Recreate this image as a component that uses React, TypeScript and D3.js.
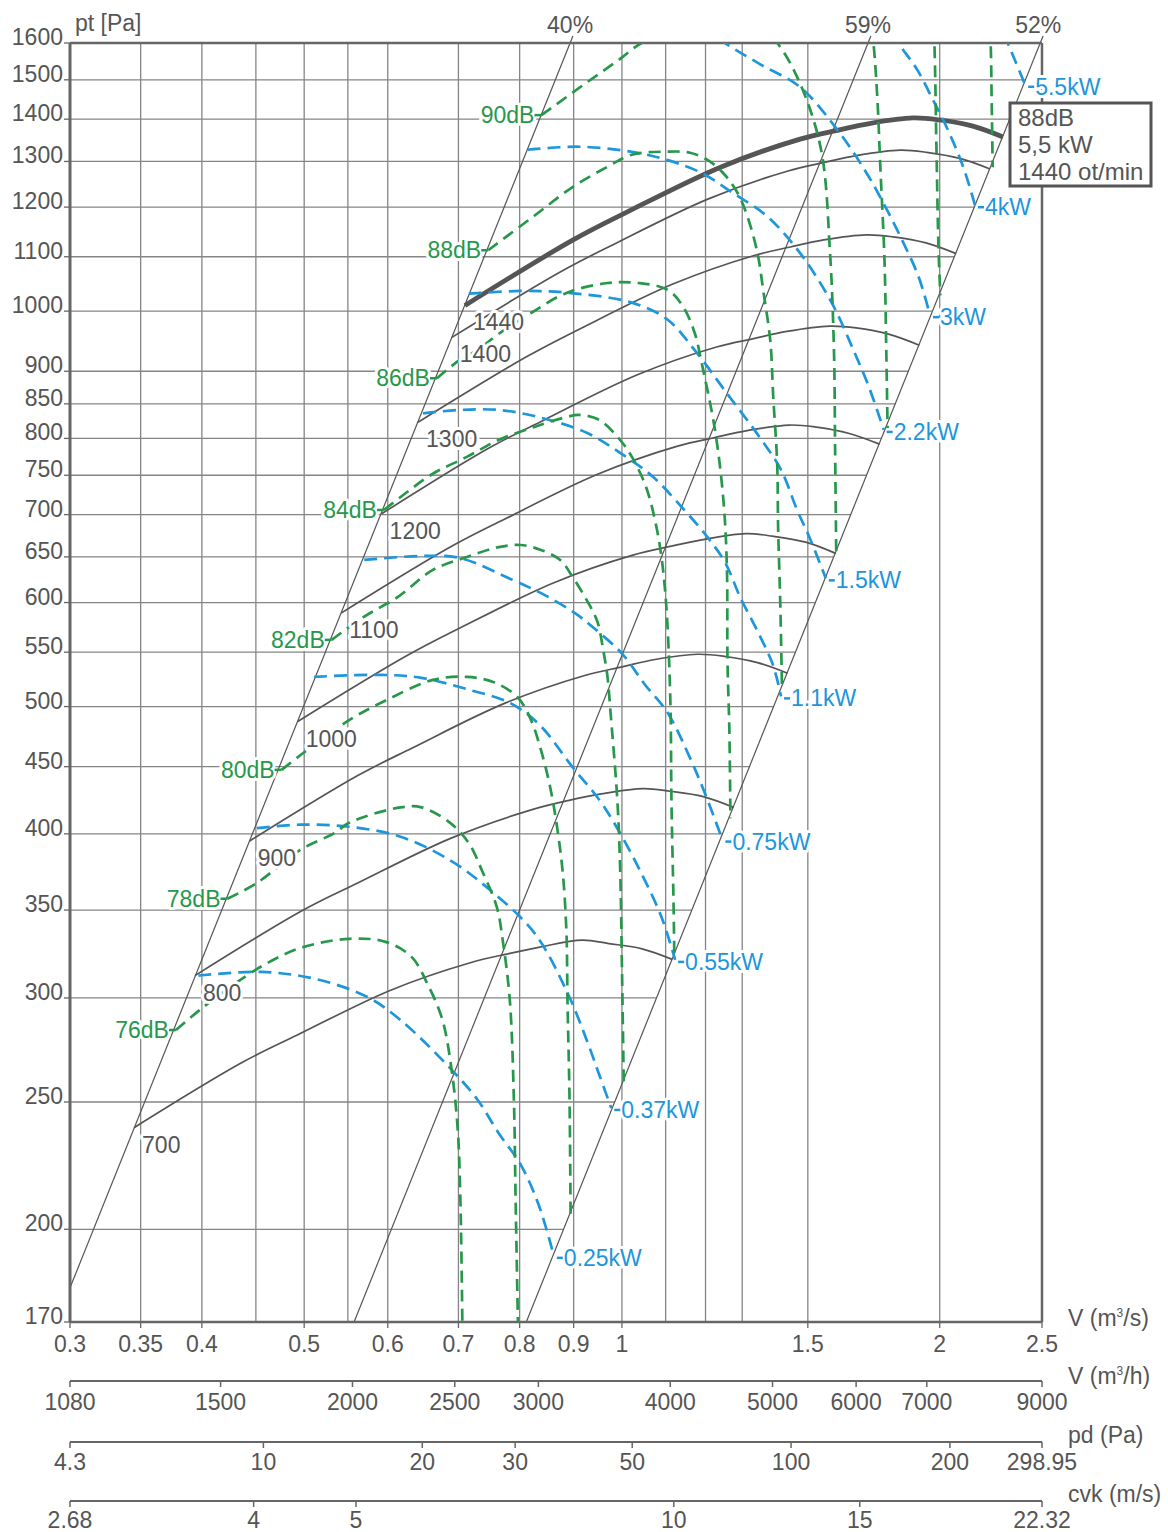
import React from "react";
import * as d3 from "d3";

type Pt = [number, number];

// ---------- axis values ----------
const flowTicks = [0.3, 0.35, 0.4, 0.5, 0.6, 0.7, 0.8, 0.9, 1, 1.5, 2, 2.5];
const flowGrid = [0.35, 0.4, 0.45, 0.5, 0.55, 0.6, 0.7, 0.8, 0.9, 1, 1.1, 1.2, 1.3, 1.5, 2];
const pressureTicks = [170, 200, 250, 300, 350, 400, 450, 500, 550, 600, 650, 700, 750, 800, 850, 900, 1000, 1100, 1200, 1300, 1400, 1500, 1600];
const pressureGrid = [200, 250, 300, 350, 400, 450, 500, 550, 600, 650, 700, 750, 800, 850, 900, 1000, 1100, 1200, 1300, 1400, 1500];
const flowHourTicks = [1080, 1500, 2000, 2500, 3000, 4000, 5000, 6000, 7000, 9000];
const pdTicks = [4.3, 10, 20, 30, 50, 100, 200, 298.95];
const cvkTicks = [2.68, 4, 5, 10, 15, 22.32];

// ---------- efficiency (system) lines ----------
const effLabels = ["40%", "59%", "52%"];
const eff40: Pt[] = [[0.3, 180.5], [0.8986, 1620]];
const eff59: Pt[] = [[0.5575, 170], [1.7211, 1620]];
const eff52: Pt[] = [[0.8117, 170], [2.5058, 1620]];

// ---------- speed curves (rpm) ----------
const speedLabels = ["700", "800", "900", "1000", "1100", "1200", "1300", "1400", "1440"];
const speed700: Pt[] = [[0.345, 239], [0.437, 268], [0.492, 281], [0.603, 304], [0.717, 319], [0.778, 324], [0.836, 328], [0.917, 332], [0.972, 330], [1.045, 327], [1.116, 321]];
const speed800: Pt[] = [[0.394, 312], [0.499, 350], [0.562, 367], [0.689, 397], [0.819, 417], [0.889, 424], [0.956, 429], [1.048, 433], [1.111, 431], [1.194, 427], [1.276, 419]];
const speed900: Pt[] = [[0.444, 395], [0.562, 443], [0.633, 465], [0.775, 503], [0.922, 528], [1.0, 536], [1.075, 543], [1.179, 548], [1.25, 546], [1.344, 540], [1.435, 530]];
const speed1000: Pt[] = [[0.493, 487], [0.624, 546], [0.703, 574], [0.861, 621], [1.024, 652], [1.111, 662], [1.194, 670], [1.31, 677], [1.389, 674], [1.493, 667], [1.594, 654]];
const speed1100: Pt[] = [[0.542, 589], [0.687, 661], [0.773, 694], [0.947, 751], [1.127, 789], [1.222, 801], [1.314, 811], [1.441, 819], [1.528, 816], [1.642, 807], [1.754, 792]];
const speed1200: Pt[] = [[0.592, 701], [0.749, 787], [0.843, 826], [1.033, 894], [1.229, 939], [1.333, 953], [1.433, 965], [1.573, 974], [1.667, 971], [1.792, 960], [1.913, 942]];
const speed1300: Pt[] = [[0.641, 823], [0.812, 923], [0.914, 970], [1.119, 1049], [1.332, 1102], [1.444, 1119], [1.553, 1133], [1.704, 1143], [1.806, 1139], [1.941, 1127], [2.073, 1106]];
const speed1400: Pt[] = [[0.69, 955], [0.874, 1071], [0.984, 1125], [1.206, 1217], [1.434, 1278], [1.556, 1298], [1.672, 1314], [1.835, 1326], [1.944, 1321], [2.09, 1307], [2.232, 1283]];
const speed1440: Pt[] = [[0.71, 1010], [0.899, 1133], [1.012, 1190], [1.24, 1287], [1.475, 1352], [1.6, 1373], [1.72, 1390], [1.887, 1403], [2.0, 1398], [2.15, 1383], [2.296, 1357]];

// ---------- motor power curves (kW) ----------
const powerLabels = ["0.25kW", "0.37kW", "0.55kW", "0.75kW", "1.1kW", "1.5kW", "2.2kW", "3kW", "4kW", "5.5kW"];
const kw025: Pt[] = [[0.397, 312], [0.456, 314], [0.514, 310], [0.574, 300.5], [0.617, 288.6], [0.687, 265.4], [0.73, 250.9], [0.764, 236.8], [0.802, 223.9], [0.834, 208.7], [0.862, 190.9]];
const kw037: Pt[] = [[0.451, 404], [0.496, 406.5], [0.552, 405], [0.617, 398], [0.687, 382], [0.75, 362.5], [0.826, 336.3], [0.886, 303.9], [0.926, 278.7], [0.952, 262], [0.977, 247.4]];
const kw055: Pt[] = [[0.511, 526.7], [0.59, 528.6], [0.646, 525.8], [0.716, 515], [0.784, 503], [0.836, 484], [0.898, 449.6], [0.952, 424.5], [0.988, 405], [1.036, 377.5], [1.09, 345.8], [1.123, 320.7]];
const kw075: Pt[] = [[0.57, 646.5], [0.646, 651], [0.702, 648.8], [0.784, 625.4], [0.846, 607.6], [0.902, 589.2], [0.94, 574], [1.0, 548.7], [1.052, 519.3], [1.105, 494.5], [1.16, 457], [1.2, 428.3], [1.245, 396]];
const kw110: Pt[] = [[0.648, 836], [0.702, 841], [0.764, 841], [0.836, 830], [0.926, 808], [0.996, 780], [1.07, 748], [1.145, 706], [1.205, 673], [1.252, 644], [1.295, 605], [1.345, 570], [1.39, 538], [1.415, 509]];
const kw150: Pt[] = [[0.716, 1031], [0.802, 1036], [0.886, 1033], [1.022, 1015], [1.105, 985], [1.172, 934], [1.257, 866], [1.35, 802], [1.415, 757], [1.465, 706], [1.505, 673], [1.56, 626]];
const kw220: Pt[] = [[0.814, 1327], [0.9125, 1334], [1.022, 1322], [1.105, 1303], [1.19, 1274], [1.274, 1230], [1.374, 1180], [1.475, 1107], [1.58, 1015], [1.657, 934], [1.718, 871], [1.77, 812]];
const kw300: Pt[] = [[1.15, 1680], [1.252, 1600], [1.355, 1540], [1.475, 1481], [1.6, 1374], [1.705, 1274], [1.777, 1200], [1.842, 1133], [1.91, 1062], [1.958, 993]];
const kw400: Pt[] = [[1.76, 1680], [1.827, 1600], [1.904, 1527], [1.971, 1448], [2.03, 1381], [2.105, 1288], [2.16, 1204]];
const kw550: Pt[] = [[2.26, 1680], [2.32, 1600], [2.36, 1548], [2.41, 1487]];

// ---------- noise curves (dB) ----------
const noiseLabels = ["76dB", "78dB", "80dB", "82dB", "84dB", "86dB", "88dB", "90dB", "", "", ""];
const db76: Pt[] = [[0.378, 283.6], [0.398, 293.7], [0.428, 306.9], [0.458, 317.9], [0.496, 327.5], [0.552, 332.8], [0.597, 331], [0.632, 322.4], [0.655, 306.9], [0.676, 288.7], [0.69, 263.7], [0.699, 238], [0.703, 210.5], [0.706, 170]];
const db78: Pt[] = [[0.423, 357], [0.451, 367], [0.496, 389], [0.534, 400.5], [0.552, 408], [0.617, 419], [0.646, 419], [0.687, 408], [0.716, 393.6], [0.737, 375], [0.761, 352], [0.771, 332], [0.783, 299], [0.79, 251], [0.793, 210.6], [0.797, 170]];
const db80: Pt[] = [[0.476, 447.5], [0.499, 460.9], [0.552, 488.5], [0.599, 505.9], [0.662, 523.9], [0.713, 526.7], [0.755, 522], [0.796, 508.5], [0.82, 488.5], [0.838, 463.4], [0.855, 434.3], [0.868, 405], [0.879, 373.4], [0.886, 336.3], [0.888, 299], [0.892, 250.9], [0.894, 205]];
const db82: Pt[] = [[0.531, 562], [0.569, 584.9], [0.613, 605.7], [0.662, 635.3], [0.713, 649.9], [0.764, 661.2], [0.802, 663.7], [0.838, 658], [0.874, 646.5], [0.898, 627.5], [0.926, 602.6], [0.948, 580], [0.96, 552], [0.969, 526.7], [0.975, 497], [0.99, 424.5], [0.996, 377.5], [1.0, 316.7], [1.004, 257.5]];
const db84: Pt[] = [[0.595, 705.7], [0.617, 721.9], [0.662, 752], [0.713, 774.5], [0.764, 797.8], [0.826, 816.3], [0.886, 830.6], [0.911, 833.6], [0.952, 826.3], [0.996, 797.8], [1.022, 774.5], [1.054, 734.8], [1.076, 690.2], [1.09, 650], [1.1, 605.9], [1.107, 554.6], [1.112, 494.5], [1.114, 424.5], [1.119, 356.2], [1.121, 323.4]];
const db86: Pt[] = [[0.668, 889], [0.702, 918], [0.729, 933.5], [0.764, 960.7], [0.82, 996.7], [0.886, 1032.5], [0.969, 1050.5], [1.036, 1050.5], [1.105, 1038], [1.143, 1007.4], [1.172, 962.4], [1.19, 913], [1.225, 812], [1.247, 722], [1.257, 643], [1.259, 540], [1.264, 480], [1.267, 411]];
const db88: Pt[] = [[0.747, 1112.6], [0.826, 1182], [0.898, 1243], [0.969, 1288], [1.022, 1315.5], [1.105, 1322.6], [1.16, 1320], [1.205, 1303.5], [1.247, 1274], [1.287, 1230], [1.315, 1180], [1.344, 1107], [1.362, 1032.5], [1.382, 950], [1.391, 860.3], [1.403, 766.3], [1.406, 681.3], [1.412, 606], [1.418, 514.5]];
const db90: Pt[] = [[0.839, 1410], [0.926, 1493], [0.996, 1556], [1.036, 1594], [1.133, 1651], [1.24, 1680], [1.341, 1651], [1.403, 1600], [1.475, 1490], [1.544, 1327], [1.574, 1112.6], [1.588, 933.5], [1.592, 784], [1.596, 651]];
const db92: Pt[] = [[1.715, 1700], [1.731, 1600], [1.746, 1448], [1.757, 1288], [1.773, 1094], [1.78, 933.5], [1.785, 814.6]];
const db94: Pt[] = [[1.97, 1700], [1.977, 1600], [1.986, 1327], [1.995, 1112.6], [2.003, 1028]];
const db96: Pt[] = [[2.225, 1700], [2.235, 1600], [2.24, 1448], [2.245, 1287]];

// ---------- summary box ----------
const summaryLines = ["88dB", "5,5 kW", "1440 ot/min"];

const speedCurves = [speed700, speed800, speed900, speed1000, speed1100, speed1200, speed1300, speed1400, speed1440];
const powerCurves = [kw025, kw037, kw055, kw075, kw110, kw150, kw220, kw300, kw400, kw550];
const noiseCurves = [db76, db78, db80, db82, db84, db86, db88, db90, db92, db94, db96];
const effCurves = [eff40, eff59, eff52];

const FONT = "'Liberation Sans', Arial, Helvetica, sans-serif";
const TXT = "#555";
const BLUE = "#1d96dc";
const GREEN = "#27984b";
const GRID = "#858585";
const AXIS = "#666";
const FS = 23;

const L = 70, R = 1042, T = 43, B = 1322;

export default function App() {
  const x = d3.scaleLog().domain([0.3, 2.5]).range([L, R]);
  const y = d3.scaleLog().domain([170, 1600]).range([B, T]);
  const xH = d3.scaleLog().domain([1080, 9000]).range([L, R]);
  const xPd = d3.scaleLog().domain([4.3, 298.95]).range([L, R]);
  const xC = d3.scaleLog().domain([2.68, 22.32]).range([L, R]);

  const smooth = d3.line<Pt>().x((d) => x(d[0])).y((d) => y(d[1])).curve(d3.curveCatmullRom.alpha(0.5));
  const straight = d3.line<Pt>().x((d) => x(d[0])).y((d) => y(d[1]));

  // V along a straight (log-log) efficiency line at given pressure
  const vOnLine = (pts: Pt[], p: number) => {
    const [a, b] = pts;
    const t = (Math.log(p) - Math.log(a[1])) / (Math.log(b[1]) - Math.log(a[1]));
    return Math.exp(Math.log(a[0]) + t * (Math.log(b[0]) - Math.log(a[0])));
  };

  const halo = { paintOrder: "stroke" as const, stroke: "#fff", strokeWidth: 6, strokeLinejoin: "round" as const };

  const secAxes = [
    { scale: xH, ticks: flowHourTicks, lineY: 1381, labelY: 1410, title: "V (m", sup: "3", tail: "/h)", titleY: 1384 },
    { scale: xPd, ticks: pdTicks, lineY: 1442, labelY: 1470, title: "pd (Pa)", sup: "", tail: "", titleY: 1443 },
    { scale: xC, ticks: cvkTicks, lineY: 1501, labelY: 1528, title: "cvk (m/s)", sup: "", tail: "", titleY: 1502 },
  ];

  return (
    <div style={{ position: "absolute", left: 0, top: 0 }}>
      <svg width={1168} height={1532} viewBox="0 0 1168 1532" style={{ display: "block", background: "#fff" }} fontFamily={FONT}>
        <defs>
          <clipPath id="plot">
            <rect x={L} y={T} width={R - L} height={B - T} />
          </clipPath>
        </defs>
        <rect x={0} y={0} width={1168} height={1532} fill="#fff" />

        {/* vertical grid */}
        {flowGrid.map((v) => (
          <line key={"vg" + v} x1={x(v)} x2={x(v)} y1={T} y2={B} stroke={GRID} strokeWidth={1.3} />
        ))}
        {/* horizontal grid, ending at the right boundary line */}
        {pressureGrid.map((p) => (
          <line key={"hg" + p} x1={L} x2={Math.min(R, x(vOnLine(eff52, p)))} y1={y(p)} y2={y(p)} stroke={GRID} strokeWidth={1.3} />
        ))}

        {/* efficiency lines */}
        {effCurves.map((pts, i) => (
          <path key={"eff" + i} d={straight(pts) || ""} fill="none" stroke="#555" strokeWidth={1.2} />
        ))}

        {/* frame */}
        <line x1={L} x2={R} y1={T} y2={T} stroke={AXIS} strokeWidth={2.5} />
        <line x1={R} x2={R} y1={T} y2={B} stroke={AXIS} strokeWidth={2.5} />
        <line x1={L} x2={R} y1={B} y2={B} stroke={AXIS} strokeWidth={2.5} />
        <line x1={L} x2={L} y1={T} y2={B} stroke={AXIS} strokeWidth={3} />

        <g clipPath="url(#plot)">
          {/* speed curves */}
          {speedCurves.map((pts, i) => (
            <path key={"sp" + i} d={smooth(pts) || ""} fill="none" stroke="#555" strokeWidth={i === speedCurves.length - 1 ? 4.8 : 1.7} />
          ))}
          {/* power curves */}
          {powerCurves.map((pts, i) => (
            <path key={"kw" + i} d={smooth(pts) || ""} fill="none" stroke={BLUE} strokeWidth={2.7} strokeDasharray="13 7" />
          ))}
          {/* noise curves */}
          {noiseCurves.map((pts, i) => (
            <path key={"db" + i} d={smooth(pts) || ""} fill="none" stroke={GREEN} strokeWidth={2.7} strokeDasharray="12 7" />
          ))}
        </g>

        {/* y ticks + labels */}
        {pressureTicks.map((p) => (
          <g key={"yt" + p}>
            <line x1={L - 6} x2={L} y1={y(p)} y2={y(p)} stroke={AXIS} strokeWidth={1.3} />
            <text x={63} y={y(p) + 2} textAnchor="end" fontSize={FS} fill={TXT}>{p}</text>
          </g>
        ))}
        <text x={75} y={31} fontSize={FS} fill={TXT}>pt [Pa]</text>

        {/* x ticks + labels */}
        {flowTicks.map((v) => (
          <g key={"xt" + v}>
            <line x1={x(v)} x2={x(v)} y1={B} y2={B + 6} stroke={AXIS} strokeWidth={1.3} />
            <text x={x(v)} y={1352} textAnchor="middle" fontSize={FS} fill={TXT}>{v}</text>
          </g>
        ))}
        <text x={1068} y={1326} fontSize={FS} fill={TXT}>
          V (m<tspan fontSize={12} dy={-9}>3</tspan><tspan dy={9}>/s)</tspan>
        </text>

        {/* secondary axes */}
        {secAxes.map((a, i) => (
          <g key={"sa" + i}>
            <line x1={L} x2={R} y1={a.lineY} y2={a.lineY} stroke={AXIS} strokeWidth={2} />
            {a.ticks.map((t) => (
              <g key={"sat" + t}>
                <line x1={a.scale(t)} x2={a.scale(t)} y1={a.lineY} y2={a.lineY + 6} stroke={AXIS} strokeWidth={1.5} />
                <text x={a.scale(t)} y={a.labelY} textAnchor="middle" fontSize={FS} fill={TXT}>{t}</text>
              </g>
            ))}
            <text x={1068} y={a.titleY} fontSize={FS} fill={TXT}>
              {a.title}
              {a.sup ? <tspan fontSize={12} dy={-9}>{a.sup}</tspan> : null}
              {a.tail ? <tspan dy={9}>{a.tail}</tspan> : null}
            </text>
          </g>
        ))}

        {/* efficiency labels */}
        {effCurves.map((pts, i) => (
          <text key={"el" + i} x={x(vOnLine(pts, 1600)) - (i === 2 ? 2 : 0)} y={33} textAnchor="middle" fontSize={FS} fill={TXT}>{effLabels[i]}</text>
        ))}

        {/* speed labels */}
        {speedCurves.map((pts, i) => (
          <text key={"sl" + i} x={x(pts[0][0]) + 8} y={y(pts[0][1]) + 25} fontSize={FS} fill={TXT} style={halo}>{speedLabels[i]}</text>
        ))}

        {/* noise labels */}
        {noiseCurves.map((pts, i) =>
          noiseLabels[i] ? (
            <g key={"nl" + i}>
              <text x={x(pts[0][0]) - 7} y={y(pts[0][1]) + 8} textAnchor="end" fontSize={FS} fill={GREEN} style={halo}>{noiseLabels[i]}</text>
              <line x1={x(pts[0][0]) - 7} x2={x(pts[0][0])} y1={y(pts[0][1])} y2={y(pts[0][1])} stroke={GREEN} strokeWidth={2.5} />
            </g>
          ) : null
        )}

        {/* power labels */}
        {powerCurves.map((pts, i) => {
          const e = pts[pts.length - 1];
          const ex = x(e[0]), ey = y(e[1]);
          return (
            <g key={"pl" + i}>
              <text x={ex + 10} y={ey + 10} fontSize={FS} fill={BLUE} style={halo}>{powerLabels[i]}</text>
              <line x1={ex + 3} x2={ex + 9} y1={ey + 2} y2={ey + 2} stroke={BLUE} strokeWidth={2.5} />
            </g>
          );
        })}

        {/* summary box */}
        <rect x={1010} y={103} width={141} height={83} fill="#fff" stroke="#555" strokeWidth={3} />
        {summaryLines.map((s, i) => (
          <text key={"sm" + i} x={1018} y={126 + i * 27} fontSize={24} fill={TXT}>{s}</text>
        ))}
      </svg>
    </div>
  );
}
